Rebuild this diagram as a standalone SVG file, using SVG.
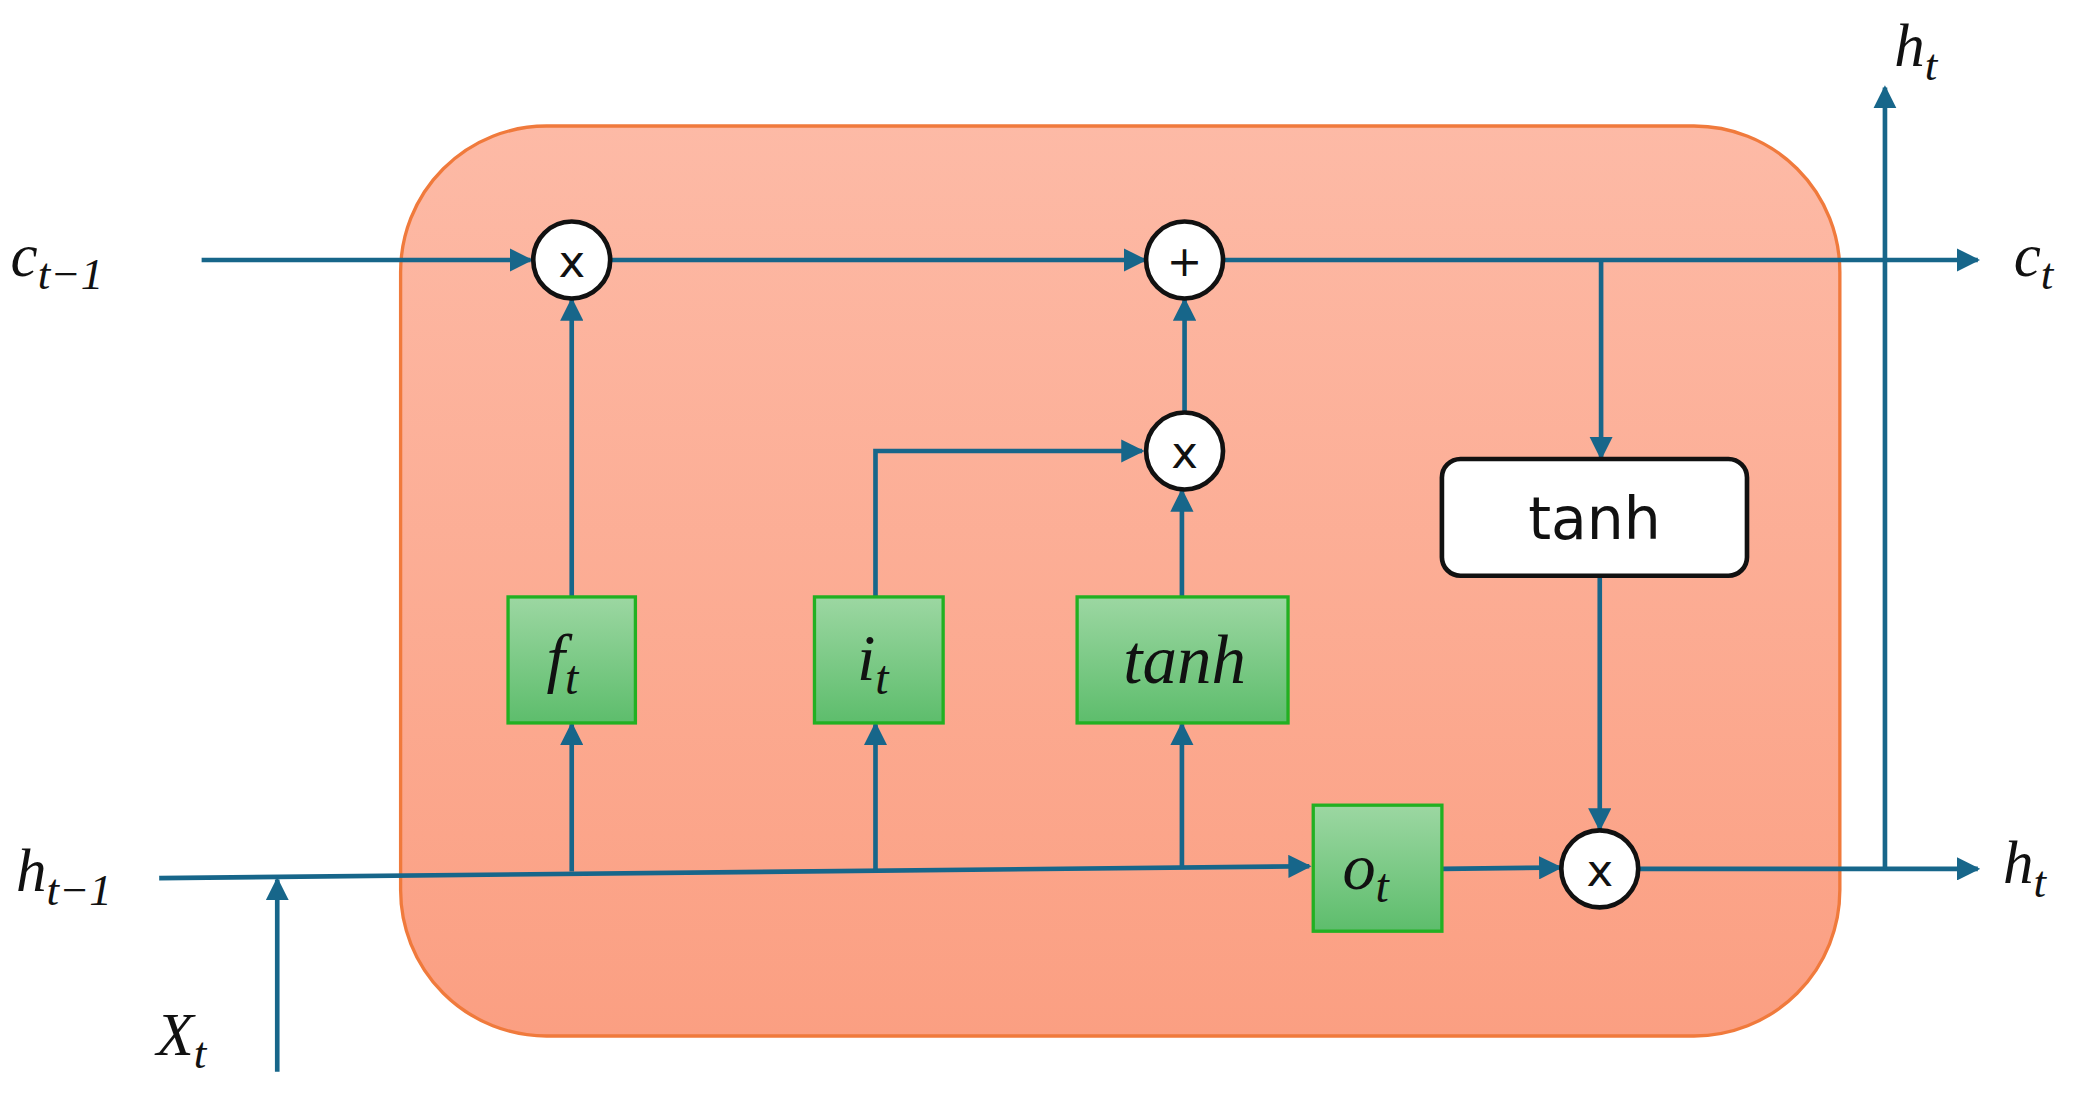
<svg xmlns="http://www.w3.org/2000/svg" width="2080" height="1099" viewBox="0 0 2080 1099">
<defs>
<linearGradient id="bg" x1="0" y1="0" x2="0" y2="1"><stop offset="0" stop-color="#FDBAA6"/><stop offset="1" stop-color="#FB9F82"/></linearGradient>
<linearGradient id="gg" x1="0" y1="0" x2="0" y2="1"><stop offset="0" stop-color="#9CD7A2"/><stop offset="1" stop-color="#5DBD6C"/></linearGradient>
<marker id="ar" viewBox="0 0 10 10" refX="9" refY="5" markerWidth="5" markerHeight="5" orient="auto" markerUnits="strokeWidth"><path d="M0,0L10,5L0,10z" fill="#17668A"/></marker>
<style>
.c{fill:none;stroke:#17668A;stroke-width:3.5;marker-end:url(#ar)}
.l{fill:none;stroke:#17668A;stroke-width:3.5}
.g{fill:url(#gg);stroke:#22B022;stroke-width:2.5}
.op{fill:#fff;stroke:#111;stroke-width:3.5}
.m{font-family:"Liberation Serif",serif;font-style:italic;fill:#111}
.s{font-family:"DejaVu Sans",sans-serif;fill:#111}
</style>
</defs>
<g transform="scale(1.3265)">
<g id="cell"><rect x="302" y="95" width="1085" height="686" rx="110" fill="url(#bg)" stroke="#F07A3C" stroke-width="2.5"/></g>
<g id="connectors">
<path class="c" d="M152,196H400"/>
<path class="c" d="M460,196H863"/>
<path class="c" d="M922,196H1491"/>
<path class="c" d="M1207,196V345"/>
<path class="c" d="M1206,434V625"/>
<path class="c" d="M120,662L987,653"/>
<path class="c" d="M431,657V546"/>
<path class="c" d="M660,657V546"/>
<path class="c" d="M891,655V546"/>
<path class="c" d="M431,450V226"/>
<path class="c" d="M660,450V340H861"/>
<path class="c" d="M891,450V370"/>
<path class="c" d="M893,311V226"/>
<path class="c" d="M1087,655L1176,654"/>
<path class="c" d="M1235,655H1491"/>
<path class="c" d="M1421,655V66"/>
<path class="c" d="M209,808V663"/>
</g>
<g id="mul1"><circle class="op" cx="431" cy="196" r="29"/><text class="s" x="431" y="209" font-size="34" text-anchor="middle">x</text></g>
<g id="add"><circle class="op" cx="893" cy="196" r="29"/><text class="s" x="893" y="208" font-size="32" text-anchor="middle">+</text></g>
<g id="mul2"><circle class="op" cx="893" cy="340" r="29"/><text class="s" x="893" y="353" font-size="34" text-anchor="middle">x</text></g>
<g id="mul3"><circle class="op" cx="1206" cy="655" r="29"/><text class="s" x="1206" y="668" font-size="34" text-anchor="middle">x</text></g>
<g id="ft"><rect class="g" x="383" y="450" width="96" height="95"/><text class="m" x="412" y="513" font-size="50">f<tspan font-size="36" dy="10">t</tspan></text></g>
<g id="it"><rect class="g" x="614" y="450" width="97" height="95"/><text class="m" x="646" y="513" font-size="50">i<tspan font-size="36" dy="10">t</tspan></text></g>
<g id="tanh1"><rect class="g" x="812" y="450" width="159" height="95"/><text class="m" x="893" y="515" font-size="52" text-anchor="middle">tanh</text></g>
<g id="ot"><rect class="g" x="990" y="607" width="97" height="95"/><text class="m" x="1012" y="670" font-size="50">o<tspan font-size="36" dy="10">t</tspan></text></g>
<g id="tanh2"><rect x="1087" y="346" width="230" height="88" rx="14" fill="#fff" stroke="#111" stroke-width="3.5"/><text class="s" x="1202" y="406" font-size="44" text-anchor="middle">tanh</text></g>
<g id="labels">
<text class="m" x="8" y="208" font-size="46">c<tspan font-size="34" dy="10">t−1</tspan></text>
<text class="m" x="1518" y="208" font-size="46">c<tspan font-size="34" dy="10">t</tspan></text>
<text class="m" x="1428" y="50" font-size="46">h<tspan font-size="34" dy="10">t</tspan></text>
<text class="m" x="1510" y="666" font-size="46">h<tspan font-size="34" dy="10">t</tspan></text>
<text class="m" x="12" y="672" font-size="46">h<tspan font-size="34" dy="10">t−1</tspan></text>
<text class="m" x="118" y="795" font-size="46">X<tspan font-size="34" dy="10">t</tspan></text>
</g>
</g>
</svg>
